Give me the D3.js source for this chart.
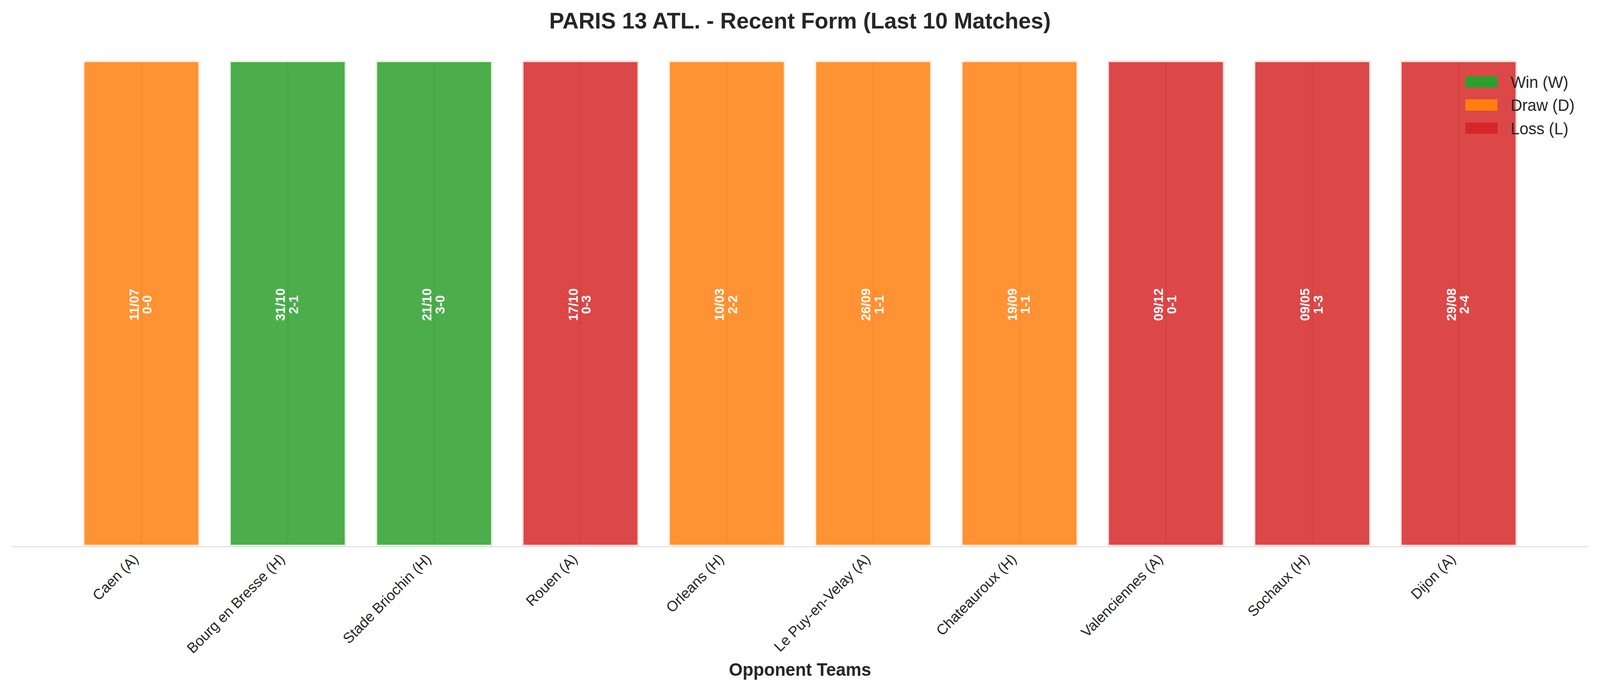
<!DOCTYPE html>
<html>
<head>
<meta charset="utf-8">
<script src="https://cdn.jsdelivr.net/npm/d3@7"></script>
<style>
  html, body { margin: 0; padding: 0; background: #ffffff; overflow: hidden; }
  svg { display: block; font-family: "Liberation Sans", Arial, sans-serif; }
</style>
</head>
<body>
<svg id="chart"></svg>
<script>
// ---- Data ----
const opponents = ["Caen (A)", "Bourg en Bresse (H)", "Stade Briochin (H)", "Rouen (A)", "Orleans (H)",
                   "Le Puy-en-Velay (A)", "Chateauroux (H)", "Valenciennes (A)", "Sochaux (H)", "Dijon (A)"];
const results = ["D", "W", "W", "L", "D", "D", "D", "L", "L", "L"];
const dates = ["11/07", "31/10", "21/10", "17/10", "10/03", "26/09", "19/09", "09/12", "09/05", "29/08"];
const scores = ["0-0", "2-1", "3-0", "0-3", "2-2", "1-1", "1-1", "0-1", "1-3", "2-4"];
const barHeights = [1, 1, 1, 1, 1, 1, 1, 1, 1, 1];
const legendKeys = ["W", "D", "L"];
const legendLabels = ["Win (W)", "Draw (D)", "Loss (L)"];
const resultColors = { W: "#2ca02c", D: "#ff7f0e", L: "#d62728" };

const titleText = "PARIS 13 ATL. - Recent Form (Last 10 Matches)";
const xLabelText = "Opponent Teams";

// ---- Layout ----
const FIG_W = 4170, FIG_H = 1770;
const viewW = window.innerWidth || FIG_W;
const viewH = window.innerHeight || FIG_H;

const svg = d3.select("#chart")
  .attr("width", viewW)
  .attr("height", viewH)
  .attr("viewBox", `0 0 ${FIG_W} ${FIG_H}`)
  .attr("preserveAspectRatio", "none");

svg.append("rect").attr("width", FIG_W).attr("height", FIG_H).attr("fill", "#ffffff");

const plotLeft = 29, plotRight = 4141, plotTop = 155, plotBottom = 1399.5;
const textColor = "#262626";

const x = d3.scaleBand()
  .domain(opponents)
  .range([plotLeft, plotRight])
  .paddingInner(0.2)
  .paddingOuter(0.49)
  .align(0.5);

const y = d3.scaleLinear().domain([0, 1]).range([plotBottom, plotTop]);

const color = d3.scaleOrdinal().domain(legendKeys).range(legendKeys.map(k => resultColors[k]));

const rows = opponents.map((o, i) => ({
  opponent: o, result: results[i], date: dates[i], score: scores[i], value: barHeights[i]
}));

// Grid lines (vertical at ticks)
svg.append("g").selectAll("line")
  .data(opponents)
  .join("line")
  .attr("x1", d => x(d) + x.bandwidth() / 2)
  .attr("x2", d => x(d) + x.bandwidth() / 2)
  .attr("y1", y(0))
  .attr("y2", y(1))
  .attr("stroke", "#cccccc")
  .attr("stroke-width", 3.4);

// Bars
svg.append("g").selectAll("rect")
  .data(rows)
  .join("rect")
  .attr("x", d => x(d.opponent))
  .attr("width", x.bandwidth())
  .attr("y", d => y(d.value))
  .attr("height", d => y(0) - y(d.value))
  .attr("fill", d => color(d.result))
  .attr("fill-opacity", 0.85)
  .attr("stroke", "#ffffff")
  .attr("stroke-opacity", 0.85)
  .attr("stroke-width", 8.3);

// Bar labels (date + score, rotated)
const labels = svg.append("g").selectAll("text")
  .data(rows)
  .join("text")
  .attr("transform", d => `translate(${x(d.opponent) + x.bandwidth() / 2},${y(d.value / 2) + 3}) rotate(-90)`)
  .attr("text-anchor", "middle")
  .attr("fill", "#ffffff")
  .attr("font-weight", "bold")
  .attr("font-size", 33.3);
labels.append("tspan").attr("x", 0).attr("y", -7.5).text(d => d.date);
labels.append("tspan").attr("x", 0).attr("y", 26.7).text(d => d.score);

// X axis
const xAxis = svg.append("g")
  .attr("transform", `translate(0,${plotBottom + 0.5})`)
  .call(d3.axisBottom(x).tickSize(0).tickSizeOuter(0).tickPadding(0));
xAxis.select(".domain").attr("stroke", "#cccccc").attr("stroke-width", 1.7);
xAxis.selectAll(".tick text")
  .attr("x", 0).attr("y", 0).attr("dy", 0)
  .attr("text-anchor", "end")
  .attr("transform", "translate(-5.6,34.5) rotate(-45)")
  .attr("fill", textColor)
  .attr("font-size", 37.5)
  .attr("font-family", "Liberation Sans, Arial, sans-serif");

// X axis label
svg.append("text")
  .attr("x", (plotLeft + plotRight) / 2)
  .attr("y", 1731.5)
  .attr("text-anchor", "middle")
  .attr("font-weight", "bold")
  .attr("font-size", 45.8)
  .attr("fill", textColor)
  .text(xLabelText);

// Title
svg.append("text")
  .attr("x", (plotLeft + plotRight) / 2)
  .attr("y", 73.3)
  .attr("text-anchor", "middle")
  .attr("font-weight", "bold")
  .attr("font-size", 58.3)
  .attr("fill", textColor)
  .text(titleText);

// Legend
const legend = svg.append("g").attr("transform", "translate(3819,195)");
const items = legend.selectAll("g")
  .data(legendKeys)
  .join("g")
  .attr("transform", (d, i) => `translate(0,${i * 59.5})`);
items.append("rect")
  .attr("width", 84)
  .attr("height", 29)
  .attr("fill", d => color(d));
items.append("text")
  .attr("x", 118)
  .attr("y", 29.5)
  .attr("font-size", 41.7)
  .attr("fill", textColor)
  .text((d, i) => legendLabels[i]);
</script>
</body>
</html>
